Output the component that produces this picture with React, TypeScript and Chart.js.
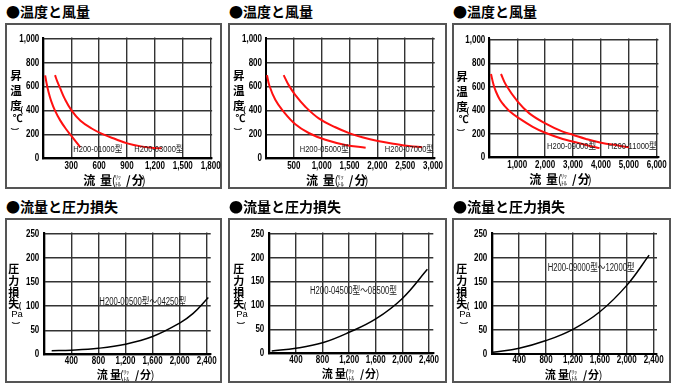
import React, { useEffect, useRef } from "react";
import { Chart, registerables } from "chart.js";
Chart.register(...registerables);

const NUM_FONT = "'Liberation Sans', 'Noto Sans CJK JP', sans-serif";
const JP_FONT = "'Noto Sans CJK JP', 'Noto Sans', sans-serif";

// ---------- tick values ----------
const tempTicks = [0, 200, 400, 600, 800, 1000];
const pressTicks = [0, 50, 100, 150, 200, 250];
const flowTicks1 = [0, 300, 600, 900, 1200, 1500, 1800];
const flowTicks2 = [0, 500, 1000, 1500, 2000, 2500, 3000];
const flowTicks3 = [0, 1000, 2000, 3000, 4000, 5000, 6000];
const flowTicksP = [0, 400, 800, 1200, 1600, 2000, 2400];

// ---------- temperature rise vs flow (red curves) ----------
const h01000Flow = [20, 35, 55, 85, 126, 180, 240, 300, 350, 398];
const h01000Temp = [695, 630, 560, 480, 400, 320, 250, 190, 140, 92];
const h03000Flow = [126, 150, 180, 230, 305, 400, 520, 645, 780, 903, 1050, 1200, 1273];
const h03000Temp = [697, 645, 590, 500, 400, 315, 250, 200, 160, 125, 100, 87, 84];
const h05000Flow = [18, 60, 167, 300, 527, 768, 1067, 1426, 1790];
const h05000Temp = [697, 610, 490, 400, 285, 212, 155, 112, 89];
const h07000Flow = [318, 408, 527, 707, 947, 1246, 1505, 1728, 2009, 2325, 2565, 2806];
const h07000Temp = [697, 613, 530, 432, 335, 260, 209, 176, 145, 120, 103, 92];
const h09000Flow = [61, 150, 240, 380, 538, 760, 1018, 1556, 2007, 2631, 3011, 3466, 3950];
const h09000Temp = [709, 620, 558, 490, 440, 385, 340, 260, 209, 156, 133, 105, 78];
const h11000Flow = [419, 599, 1018, 1434, 2007, 2631, 3011, 3466, 4004, 4659, 4996];
const h11000Temp = [709, 615, 473, 374, 289, 218, 190, 156, 124, 99, 85];

// ---------- pressure loss vs flow (black curves) ----------
const p00500Flow = [109, 400, 800, 1200, 1600, 2000, 2200, 2424];
const p00500Loss = [7.5, 8.5, 12.5, 21, 37, 65, 85, 118];
const p04500Flow = [36, 400, 800, 1200, 1600, 2000, 2376];
const p04500Loss = [5, 10.5, 22, 44, 72, 115, 176];
const p09000Flow = [10, 400, 800, 1200, 1600, 2000, 2333];
const p09000Loss = [3.5, 12, 28, 51.5, 88, 143, 206];

// ---------- texts ----------
const titleTemp = "●温度と風量";
const titlePress = "●流量と圧力損失";
const labels1 = ["H200-01000型", "H200-03000型"];
const labels2 = ["H200-05000型", "H200-07000型"];
const labels3 = ["H200-09000型", "H200-11000型"];
const labelP1 = "H200-00500型～04250型";
const labelP2 = "H200-04500型～08500型";
const labelP3 = "H200-09000型～12000型";
const labelPos1 = [[322, 73], [979, 73]];
const labelPos2 = [[606, 75], [2135, 75]];
const labelPos3 = [[2068, 90], [4244, 90]];
const labelPosP = [[813, 109], [612, 130], [824, 178]];

const RED = "#ff1010";
const BLACK = "#000";

const pts = (xs: number[], ys: number[]) => xs.map((x, i) => ({ x, y: ys[i] }));

type Item = { t: string; dx: number; dy: number; size?: number; rot?: boolean; font?: string; bold?: boolean };

const yTitleTemp: Item[] = [
  { t: "昇", dx: -27.3, dy: 38.5 },
  { t: "温", dx: -27.3, dy: 53.5 },
  { t: "度", dx: -27.3, dy: 68 },
  { t: "(", dx: -21.5, dy: 72.5, size: 8 },
  { t: "℃", dx: -25.5, dy: 81, size: 10 },
  { t: ")", dx: -27.8, dy: 91.5, size: 8, rot: true },
];
const yTitlePress: Item[] = [
  { t: "圧", dx: -30.5, dy: 36 },
  { t: "力", dx: -30.5, dy: 48.4 },
  { t: "損", dx: -30.5, dy: 60 },
  { t: "失", dx: -30.5, dy: 70.8 },
  { t: "(", dx: -24.3, dy: 73.5, size: 8 },
  { t: "Pa", dx: -27.3, dy: 81.5, size: 9.5, font: NUM_FONT, bold: false },
  { t: ")", dx: -28.3, dy: 90.5, size: 8, rot: true },
];
const xTitleTemp = { size: 12, dy: 21.7, pos: [40, 56.7, 68.4, 71.7, 82.7, 88.4, 98.4] };
const xTitlePress = { size: 11, dy: 20.7, pos: [52.4, 65.7, 75.7, 79, 90.7, 95.7, 106.4] };

type PanelCfg = {
  title: string;
  box: number[];
  area: number[];
  xMax: number;
  yMax: number;
  xTicks: number[];
  yTicks: number[];
  series: { data: { x: number; y: number }[]; color: string; width: number }[];
  notes: { text: string; x: number; y: number }[];
  noteSize: number;
  noteWidth: number;
  yTitle: Item[];
  yTitleSize: number;
  xTitle: { size: number; dy: number; pos: number[] };
  xLabelOffset: number;
  yLabelPad: number;
};

const COLS = [[6, 221], [229, 446], [453, 670]];
const ROWS = [[24, 188], [219, 382]];

const topCommon = {
  title: titleTemp, yMax: 1012, yTicks: tempTicks, noteSize: 9, noteWidth: 49,
  yTitle: yTitleTemp, yTitleSize: 11.5, xTitle: xTitleTemp, xLabelOffset: 8, yLabelPad: 4,
};
const botCommon = {
  title: titlePress, yMax: 253, yTicks: pressTicks, noteSize: 10, noteWidth: 87,
  yTitle: yTitlePress, yTitleSize: 11, xTitle: xTitlePress, xLabelOffset: 6.5, yLabelPad: 5,
};

const panels: PanelCfg[] = [
  {
    ...topCommon, box: [COLS[0][0], ROWS[0][0], COLS[0][1], ROWS[0][1]],
    area: [43.3, 37.6, 212.1, 158.3], xMax: 1815, xTicks: flowTicks1,
    series: [
      { data: pts(h01000Flow, h01000Temp), color: RED, width: 2 },
      { data: pts(h03000Flow, h03000Temp), color: RED, width: 2 },
    ],
    notes: labels1.map((t, i) => ({ text: t, x: labelPos1[i][0], y: labelPos1[i][1] })),
  },
  {
    ...topCommon, box: [COLS[1][0], ROWS[0][0], COLS[1][1], ROWS[0][1]],
    area: [266, 37.5, 434.7, 158.3], xMax: 3030, xTicks: flowTicks2,
    series: [
      { data: pts(h05000Flow, h05000Temp), color: RED, width: 2 },
      { data: pts(h07000Flow, h07000Temp), color: RED, width: 2 },
    ],
    notes: labels2.map((t, i) => ({ text: t, x: labelPos2[i][0], y: labelPos2[i][1] })),
  },
  {
    ...topCommon, box: [COLS[2][0], ROWS[0][0], COLS[2][1], ROWS[0][1]],
    area: [489.3, 38.4, 658.4, 157.3], xMax: 6060, xTicks: flowTicks3,
    series: [
      { data: pts(h09000Flow, h09000Temp), color: RED, width: 2 },
      { data: pts(h11000Flow, h11000Temp), color: RED, width: 2 },
    ],
    notes: labels3.map((t, i) => ({ text: t, x: labelPos3[i][0], y: labelPos3[i][1] })),
  },
  {
    ...botCommon, box: [COLS[0][0], ROWS[1][0], COLS[0][1], ROWS[1][1]],
    area: [44.3, 232.6, 210.7, 354.3], xMax: 2459, xTicks: flowTicksP,
    series: [{ data: pts(p00500Flow, p00500Loss), color: BLACK, width: 1.5 }],
    notes: [{ text: labelP1, x: labelPosP[0][0], y: labelPosP[0][1] }],
  },
  {
    ...botCommon, box: [COLS[1][0], ROWS[1][0], COLS[1][1], ROWS[1][1]],
    area: [269.3, 232.6, 433.3, 353.3], xMax: 2465, xTicks: flowTicksP,
    series: [{ data: pts(p04500Flow, p04500Loss), color: BLACK, width: 1.5 }],
    notes: [{ text: labelP2, x: labelPosP[1][0], y: labelPosP[1][1] }],
  },
  {
    ...botCommon, box: [COLS[2][0], ROWS[1][0], COLS[2][1], ROWS[1][1]],
    area: [492.3, 232.6, 657, 354], xMax: 2450, xTicks: flowTicksP,
    series: [{ data: pts(p09000Flow, p09000Loss), color: BLACK, width: 1.5 }],
    notes: [{ text: labelP3, x: labelPosP[2][0], y: labelPosP[2][1] }],
  },
];

function narrowText(ctx: any, text: string, x: number, y: number, align: string, font: string, sx: number, color: string, targetW?: number) {
  ctx.save();
  ctx.font = font;
  ctx.fillStyle = color;
  ctx.textAlign = align;
  ctx.textBaseline = "middle";
  let s = sx;
  if (targetW) {
    const w = ctx.measureText(text).width;
    if (w > 0) s = targetW / w;
  }
  ctx.translate(x, y);
  ctx.scale(s, 1);
  ctx.fillText(text, 0, 0);
  ctx.restore();
}

function Panel({ cfg }: { cfg: PanelCfg }) {
  const ref = useRef<HTMLCanvasElement>(null);
  const [bl, bt, br, bb] = cfg.box;
  const cL = bl - 1;
  const cT = bt;
  const cW = br - bl + 20;
  const cH = bb - bt;

  useEffect(() => {
    const canvas = ref.current!;
    const [al, at, ar, ab] = cfg.area;
    const tickFont = `bold 10px ${NUM_FONT}`;
    const textPlugin = {
      id: "panelText",
      afterDraw(chart: any) {
        const ctx = chart.ctx;
        const a = chart.chartArea;
        const xs = chart.scales.x;
        const ys = chart.scales.y;
        ctx.save();
        // tick labels (narrow, positioned by the library's scales)
        xs.ticks.forEach((t: any) => {
          if (t.value === 0) return;
          narrowText(ctx, Number(t.value).toLocaleString("en-US"), xs.getPixelForValue(t.value), a.bottom + cfg.xLabelOffset, "center", tickFont, 0.8, "#000");
        });
        ys.ticks.forEach((t: any) => {
          narrowText(ctx, Number(t.value).toLocaleString("en-US"), a.left - cfg.yLabelPad, ys.getPixelForValue(t.value), "right", tickFont, 0.8, "#000");
        });
        // curve labels
        cfg.notes.forEach((n) =>
          narrowText(ctx, n.text, xs.getPixelForValue(n.x), ys.getPixelForValue(n.y), "left", `${cfg.noteSize}px ${NUM_FONT}`, 1, "#1a1a1a", cfg.noteWidth)
        );
        // y title
        ctx.fillStyle = "#000";
        ctx.textAlign = "center";
        ctx.textBaseline = "middle";
        cfg.yTitle.forEach((it) => {
          const size = it.size ?? cfg.yTitleSize;
          const bold = it.bold === false ? "" : "bold ";
          ctx.font = `${bold}${size}px ${it.font ?? JP_FONT}`;
          const x = a.left + it.dx;
          const y = a.top + it.dy;
          if (it.rot) {
            ctx.save();
            ctx.translate(x, y);
            ctx.rotate(Math.PI / 2);
            ctx.fillText(it.t, 0, 0);
            ctx.restore();
          } else {
            ctx.fillText(it.t, x, y);
          }
        });
        // x title
        const xt = cfg.xTitle;
        const p = xt.pos;
        const y0 = a.bottom + xt.dy;
        ctx.textAlign = "left";
        ctx.font = `bold ${xt.size}px ${JP_FONT}`;
        ctx.fillText("流", a.left + p[0], y0);
        ctx.fillText("量", a.left + p[1], y0);
        ctx.font = `${xt.size}px ${JP_FONT}`;
        ctx.fillText("(", a.left + p[2], y0);
        ctx.font = `6px ${JP_FONT}`;
        ctx.fillText("ﾘｯ", a.left + p[3], y0 - 3);
        ctx.fillText("ﾄﾙ", a.left + p[3], y0 + 3.5);
        ctx.font = `bold ${xt.size}px ${JP_FONT}`;
        ctx.fillText("/", a.left + p[4], y0);
        ctx.fillText("分", a.left + p[5], y0);
        ctx.font = `${xt.size}px ${JP_FONT}`;
        ctx.fillText(")", a.left + p[6], y0);
        ctx.restore();
      },
    };

    const gridCfg = { color: "#333", lineWidth: 1.4, drawTicks: false };

    const chart = new Chart(canvas, {
      type: "line",
      data: {
        datasets: cfg.series.map((s) => ({
          data: s.data,
          borderColor: s.color,
          borderWidth: s.width,
          pointRadius: 0,
          fill: false,
          tension: 0.4,
        })),
      },
      options: {
        responsive: false,
        animation: false,
        events: [],
        layout: { padding: { left: 0, top: at - cT, right: cL + cW - ar, bottom: 0 } },
        plugins: { legend: { display: false }, tooltip: { enabled: false }, title: { display: false } },
        scales: {
          x: {
            type: "linear",
            bounds: "data",
            min: 0,
            max: cfg.xMax,
            afterBuildTicks: (s: any) => { s.ticks = cfg.xTicks.map((v) => ({ value: v })); },
            afterFit: (s: any) => { s.height = cT + cH - ab; },
            grid: gridCfg,
            border: { display: true, color: "#000", width: 2 },
            ticks: { display: false, autoSkip: false, maxRotation: 0 },
          },
          y: {
            type: "linear",
            bounds: "data",
            min: 0,
            max: cfg.yMax,
            afterBuildTicks: (s: any) => { s.ticks = cfg.yTicks.map((v) => ({ value: v })); },
            afterFit: (s: any) => { s.width = al - cL; },
            grid: gridCfg,
            border: { display: true, color: "#000", width: 2 },
            ticks: { display: false, autoSkip: false },
          },
        },
      },
      plugins: [textPlugin],
    } as any);
    return () => chart.destroy();
  }, []);

  return (
    <>
      <div
        style={{
          position: "absolute",
          left: bl,
          top: bt - 21,
          height: 16,
          lineHeight: "16px",
          fontFamily: JP_FONT,
          fontSize: 14,
          fontWeight: 700,
          color: "#000",
          whiteSpace: "nowrap",
        }}
      >
        {cfg.title}
      </div>
      <div
        style={{
          position: "absolute",
          left: bl - 1,
          top: bt - 1,
          width: br - bl + 2,
          height: bb - bt + 2,
          border: "2px solid #555",
          boxSizing: "border-box",
        }}
      />
      <canvas
        ref={ref}
        width={cW}
        height={cH}
        style={{ position: "absolute", left: cL, top: cT, width: cW, height: cH }}
      />
    </>
  );
}

export default function App() {
  return (
    <div
      style={{
        position: "fixed",
        left: 0,
        top: 0,
        width: 680,
        height: 391,
        background: "#fff",
        overflow: "hidden",
      }}
    >
      {panels.map((p, i) => (
        <Panel key={i} cfg={p} />
      ))}
    </div>
  );
}
